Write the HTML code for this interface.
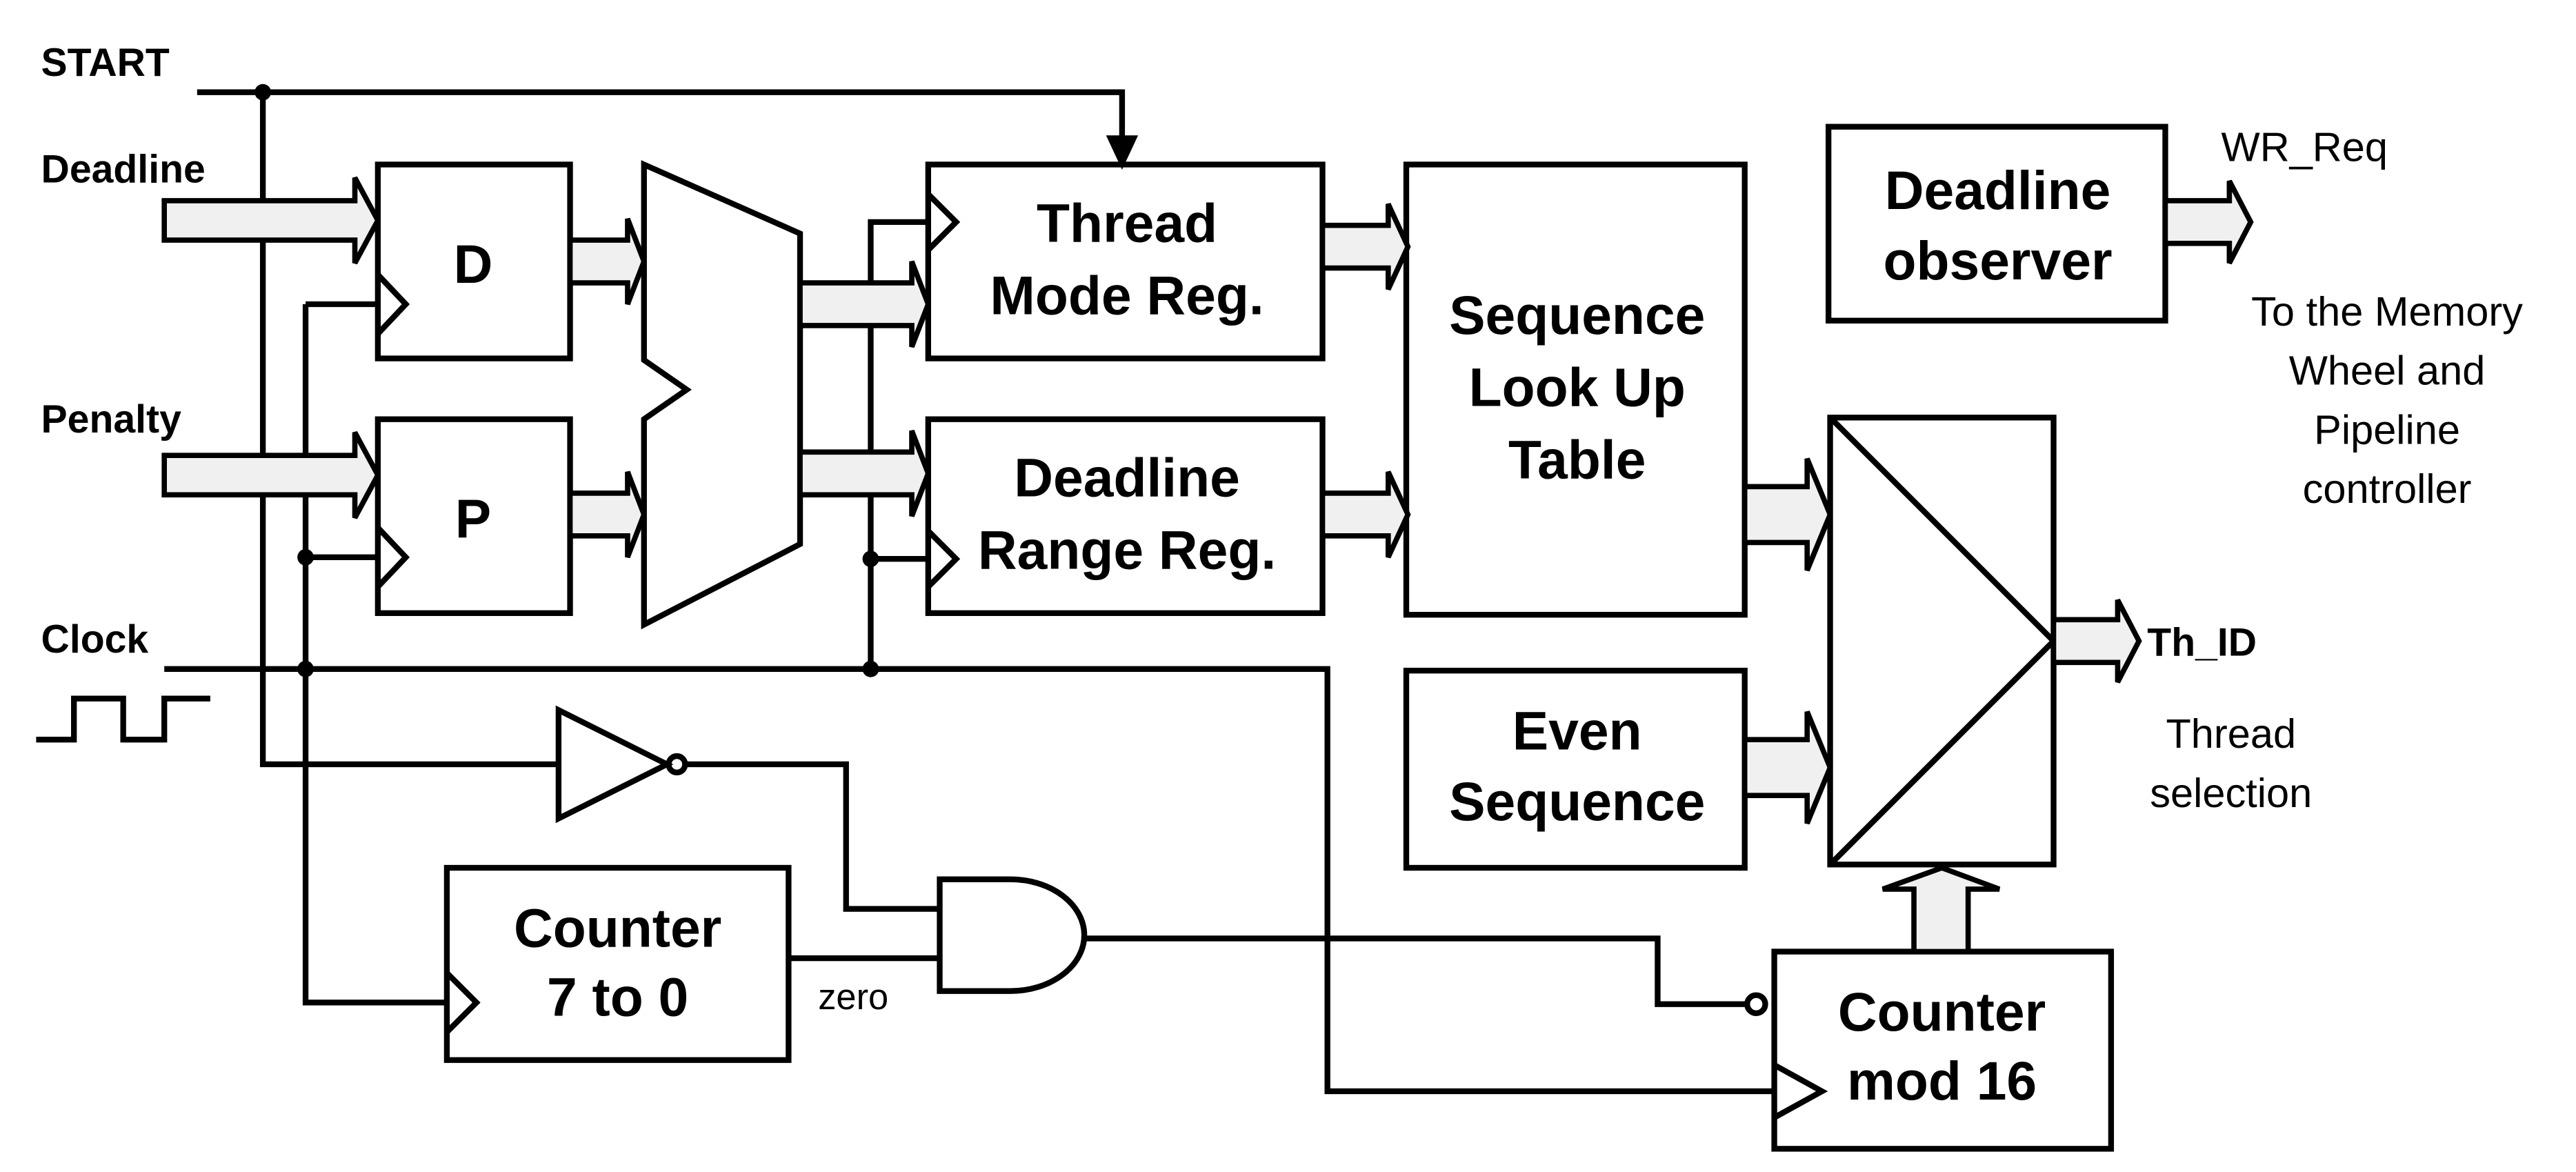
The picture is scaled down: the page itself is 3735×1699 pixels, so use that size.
<!DOCTYPE html>
<html><head><style>html,body{margin:0;padding:0;background:#fff}svg{display:block}</style></head>
<body>
<svg width="3735" height="1699" viewBox="0 0 1568 713" xmlns="http://www.w3.org/2000/svg">
<g fill="none" stroke="#000" stroke-width="3.5" stroke-linejoin="miter">
<polyline points="120,56 683,56 683,88"/>
<polygon points="676,84 690,84 683,99" fill="#000"/>
<polyline points="160,56 160,465 340,465"/>
<polyline points="100,407 808,407 808,664 1080,664"/>
<polyline points="186,185 186,610 272,610"/>
<line x1="186" y1="185" x2="230" y2="185"/>
<line x1="186" y1="339" x2="230" y2="339"/>
<polyline points="565,135 530,135 530,407"/>
<line x1="530" y1="340" x2="565" y2="340"/>
<polyline points="22,450 45,450 45,425 75,425 75,450 100,450 100,425 128,425"/>
<rect x="230" y="100" width="117" height="118"/>
<rect x="230" y="255" width="117" height="118"/>
<polyline points="230,167 247,185 230,203"/>
<polyline points="230,321 247,339 230,357"/>
<polygon points="392,100 487,142 487,331 392,380 392,255 418,237 392,219"/>
<rect x="565" y="100" width="240" height="118"/>
<rect x="565" y="255" width="240" height="118"/>
<polyline points="565,118 582,135 565,152"/>
<polyline points="565,323 582,340 565,357"/>
<rect x="856" y="100" width="206" height="274"/>
<rect x="856" y="408" width="206" height="120"/>
<rect x="1114" y="254" width="136" height="272"/>
<polyline points="1114,254 1250,390 1114,526"/>
<rect x="1113" y="77" width="205" height="118"/>
<rect x="272" y="528" width="208" height="117"/>
<polyline points="272,592 290,610 272,628"/>
<rect x="1080" y="579" width="205" height="120"/>
<polyline points="1080,648 1109,664 1080,680"/>
<polygon points="340,432 340,498 406,465"/>
<circle cx="412" cy="465" r="5"/>
<polyline points="417,465 515,465 515,553 572,553"/>
<path d="M572,535 L615,535 A45,34 0 0 1 615,603 L572,603 Z"/>
<line x1="480" y1="583" x2="572" y2="583"/>
<polyline points="660,571 1009,571 1009,611 1063,611"/>
<circle cx="1069" cy="611" r="5.5"/>
</g>
<g fill="#000">
<circle cx="160" cy="56" r="5"/><circle cx="186" cy="339" r="5"/><circle cx="186" cy="407" r="5"/>
<circle cx="530" cy="340" r="5"/><circle cx="530" cy="407" r="5"/>
</g>
<g fill="#f0f0f0" stroke="#000" stroke-width="3.2" stroke-linejoin="miter">
<polygon points="100,122 216,122 216,108 230,134 216,160 216,146 100,146"/>
<polygon points="100,277 216,277 216,263 230,289 216,315 216,301 100,301"/>
<polygon points="347,146 382,146 382,133 392,159 382,185 382,172 347,172"/>
<polygon points="347,300 382,300 382,287 392,313 382,339 382,326 347,326"/>
<polygon points="487,172 555,172 555,159 565,185 555,211 555,198 487,198"/>
<polygon points="487,275 555,275 555,262 565,288 555,314 555,301 487,301"/>
<polygon points="805,137 845,137 845,124 857,150 845,176 845,163 805,163"/>
<polygon points="805,300 845,300 845,287 857,313 845,339 845,326 805,326"/>
<polygon points="1062,296 1100,296 1100,279 1114,313 1100,347 1100,330 1062,330"/>
<polygon points="1062,450 1100,450 1100,433 1114,467 1100,501 1100,484 1062,484"/>
<polygon points="1250,377 1289,377 1289,365 1302,390 1289,415 1289,403 1250,403"/>
<polygon points="1318,122 1357,122 1357,110 1370,135 1357,160 1357,148 1318,148"/>
<polygon points="1165,579 1165,541 1146,541 1182,528 1217,541 1198,541 1198,579"/>
</g>
<g font-family="Liberation Sans, Arial, sans-serif" fill="#000">
<g font-weight="bold" font-size="24">
<text x="25" y="46">START</text>
<text x="25" y="111">Deadline</text>
<text x="25" y="263">Penalty</text>
<text x="25" y="397">Clock</text>
<text x="1307" y="399">Th_ID</text>
</g>
<g font-weight="bold" font-size="33" text-anchor="middle">
<text x="288" y="172">D</text>
<text x="288" y="327">P</text>
<text x="686" y="147">Thread</text>
<text x="686" y="191">Mode Reg.</text>
<text x="686" y="302">Deadline</text>
<text x="686" y="346">Range Reg.</text>
<text x="960" y="203">Sequence</text>
<text x="960" y="247">Look Up</text>
<text x="960" y="291">Table</text>
<text x="960" y="456">Even</text>
<text x="960" y="499">Sequence</text>
<text x="1216" y="127">Deadline</text>
<text x="1216" y="170">observer</text>
<text x="376" y="576">Counter</text>
<text x="376" y="618">7 to 0</text>
<text x="1182" y="627">Counter</text>
<text x="1182" y="669">mod 16</text>
</g>
<g font-size="25" text-anchor="middle">
<text x="1453" y="198">To the Memory</text>
<text x="1453" y="234">Wheel and</text>
<text x="1453" y="270">Pipeline</text>
<text x="1453" y="306">controller</text>
<text x="1358" y="455">Thread</text>
<text x="1358" y="491">selection</text>
</g>
<text x="1352" y="98" font-size="25">WR_Req</text>
<text x="498" y="614" font-size="22">zero</text>
</g>
</svg>
</body></html>
